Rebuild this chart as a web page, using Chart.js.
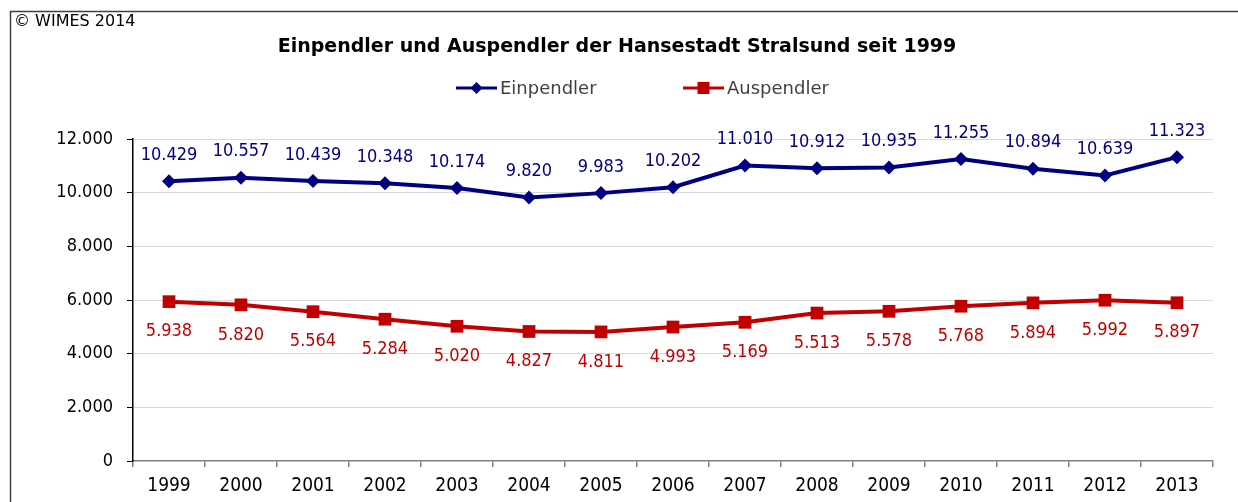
<!DOCTYPE html>
<html>
<head>
<meta charset="utf-8">
<script src="https://cdn.jsdelivr.net/npm/chart.js@4/dist/chart.umd.min.js"></script>
<style>
  html, body { margin: 0; padding: 0; background: #fff; }
  #wrap { width: 1238px; height: 502px; }
</style>
</head>
<body>
<div id="wrap"><canvas id="pendler" width="1238" height="502"></canvas></div>
<script>
const years = ["1999", "2000", "2001", "2002", "2003", "2004", "2005", "2006", "2007", "2008", "2009", "2010", "2011", "2012", "2013"];
const einpendler = [10429, 10557, 10439, 10348, 10174, 9820, 9983, 10202, 11010, 10912, 10935, 11255, 10894, 10639, 11323];
const auspendler = [5938, 5820, 5564, 5284, 5020, 4827, 4811, 4993, 5169, 5513, 5578, 5768, 5894, 5992, 5897];
const yTicks = [0, 2000, 4000, 6000, 8000, 10000, 12000];

const FONT = "'DejaVu Sans Condensed', 'DejaVu Sans', sans-serif";
const WIDE = "'DejaVu Sans', sans-serif";
const BLUE = "#000080";
const RED = "#c00000";

// 10429 -> "10.429"
const fmt = (n) => String(n).replace(/\B(?=(\d{3})+(?!\d))/g, ".");

const frameAndTitle = {
  id: "frameAndTitle",
  beforeDraw(chart) {
    const { ctx } = chart;
    ctx.save();
    ctx.fillStyle = "#fff";
    ctx.fillRect(0, 0, chart.width, chart.height);
    ctx.strokeStyle = "#404040";
    ctx.lineWidth = 1.5;
    ctx.beginPath();
    ctx.moveTo(10.5, 502);
    ctx.lineTo(10.5, 11.5);
    ctx.lineTo(1238, 11.5);
    ctx.stroke();
    ctx.fillStyle = "#000";
    ctx.textBaseline = "middle";
    ctx.textAlign = "left";
    ctx.font = "16px " + WIDE;
    ctx.fillText("© WIMES 2014", 14, 22);
    ctx.textAlign = "center";
    ctx.font = "bold 19px " + WIDE;
    ctx.fillText("Einpendler und Auspendler der Hansestadt Stralsund seit 1999", 617, 47);
    ctx.restore();
  },
};

const legendBox = {
  id: "legendBox",
  afterDraw(chart) {
    const { ctx } = chart;
    const items = [
      { label: "Einpendler", color: BLUE, x: 456, style: "diamond" },
      { label: "Auspendler", color: RED, x: 683, style: "square" },
    ];
    const y = 88;
    ctx.save();
    for (const it of items) {
      ctx.strokeStyle = it.color;
      ctx.fillStyle = it.color;
      ctx.lineWidth = 3;
      ctx.beginPath();
      ctx.moveTo(it.x, y);
      ctx.lineTo(it.x + 41, y);
      ctx.stroke();
      const cx = it.x + 20.5;
      ctx.beginPath();
      if (it.style === "diamond") {
        ctx.moveTo(cx, y - 6);
        ctx.lineTo(cx + 6, y);
        ctx.lineTo(cx, y + 6);
        ctx.lineTo(cx - 6, y);
        ctx.closePath();
        ctx.fill();
      } else {
        ctx.fillRect(cx - 6, y - 6, 12, 12);
      }
      ctx.fillStyle = "#404040";
      ctx.font = "18px " + WIDE;
      ctx.textAlign = "left";
      ctx.textBaseline = "middle";
      ctx.fillText(it.label, it.x + 44, y + 1);
    }
    ctx.restore();
  },
};

const valueLabels = {
  id: "valueLabels",
  afterDatasetsDraw(chart) {
    const { ctx } = chart;
    ctx.save();
    ctx.font = "18px " + FONT;
    ctx.textAlign = "center";
    ctx.textBaseline = "middle";
    chart.data.datasets.forEach((ds, i) => {
      const meta = chart.getDatasetMeta(i);
      ctx.fillStyle = ds.borderColor;
      meta.data.forEach((pt, j) => {
        const off = i === 0 ? -26 : 30;
        ctx.fillText(fmt(ds.data[j]), pt.x, pt.y + off);
      });
    });
    ctx.restore();
  },
};

new Chart(document.getElementById("pendler"), {
  type: "line",
  data: {
    labels: years,
    datasets: [
      {
        label: "Einpendler",
        data: einpendler,
        borderColor: BLUE,
        backgroundColor: BLUE,
        borderWidth: 4,
        pointStyle: "rectRot",
        pointRadius: 7,
        pointBorderWidth: 0,
        tension: 0,
      },
      {
        label: "Auspendler",
        data: auspendler,
        borderColor: RED,
        backgroundColor: RED,
        borderWidth: 4,
        pointStyle: "rect",
        pointRadius: 9,
        pointBorderWidth: 0,
        tension: 0,
      },
    ],
  },
  options: {
    responsive: false,
    animation: false,
    devicePixelRatio: 1,
    layout: { padding: { top: 139, left: 0, right: 25, bottom: 0 } },
    plugins: {
      legend: { display: false },
      title: { display: false },
      tooltip: { enabled: false },
    },
    scales: {
      x: {
        offset: true,
        afterFit(scale) { scale.height = 41; },
        grid: {
          offset: true,
          drawOnChartArea: false,
          tickLength: 6,
          tickColor: "#808080",
          lineWidth: 1.5,
        },
        border: { color: "#808080", width: 1.5 },
        ticks: { color: "#000", padding: 8, font: { family: FONT, size: 19 }, maxRotation: 0 },
      },
      y: {
        min: 0,
        max: 12000,
        afterFit(scale) { scale.width = 133; },
        afterBuildTicks(scale) { scale.ticks = yTicks.map((v) => ({ value: v })); },
        grid: {
          color: (c) => (c.tick.value === 0 ? "rgba(0,0,0,0)" : "#b0b0b0"),
          lineWidth: 1,
          tickLength: 6,
          tickColor: "#000",
          tickBorderDash: [],
        },
        border: { color: "#000", width: 1.5, dash: [1, 1] },
        ticks: {
          color: "#000",
          padding: 14,
          font: { family: FONT, size: 18 },
          callback: (v) => fmt(v),
        },
      },
    },
  },
  plugins: [frameAndTitle, valueLabels, legendBox],
});
</script>
</body>
</html>
